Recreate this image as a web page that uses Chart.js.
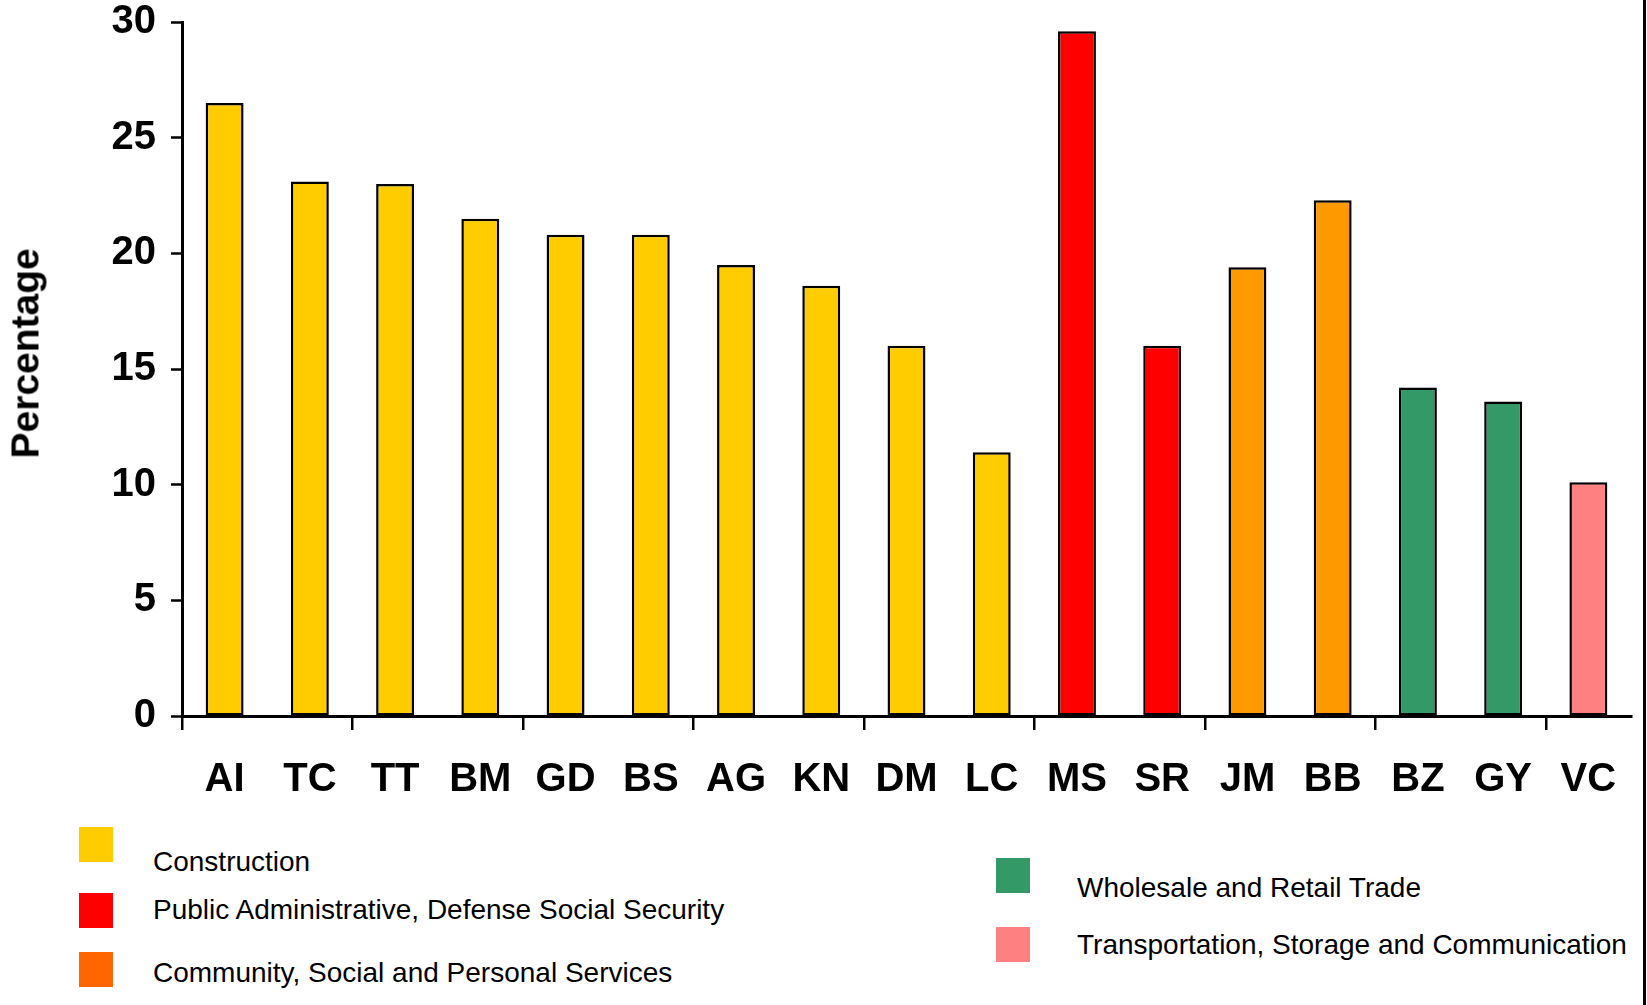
<!DOCTYPE html>
<html>
<head>
<meta charset="utf-8">
<script src="https://cdn.jsdelivr.net/npm/chart.js@4.4.1/dist/chart.umd.min.js"></script>
<style>
  html, body { margin: 0; padding: 0; background: #fff; }
  body { width: 1647px; height: 1005px; position: relative; overflow: hidden; }
  .chart-container { position: absolute; left: 0; top: 0; width: 1647px; height: 800px; }
  .edge { position: absolute; left: 1643px; top: 0; width: 3px; height: 1005px; background: #000; }
  .y-title {
    position: absolute; left: -80px; top: 334px; width: 210px; height: 39px;
    font-family: "Liberation Sans", Arial, sans-serif; font-weight: bold; font-size: 39px; line-height: 39px;
    text-align: center; color: #000; white-space: nowrap; transform: rotate(-90deg);
  }
  .legend-item .swatch { position: absolute; width: 34px; height: 35px; }
  .legend-item .label {
    position: absolute; white-space: nowrap;
    font-family: "Liberation Sans", Arial, sans-serif; font-size: 28px; line-height: 28px; color: #000;
  }
</style>
</head>
<body>
<div class="chart-container"><canvas id="sectorChart"></canvas></div>
<div class="y-title">Percentage</div>
<div class="edge"></div>
<div id="legend"></div>
<script>
const categories = ['AI', 'TC', 'TT', 'BM', 'GD', 'BS', 'AG', 'KN', 'DM', 'LC', 'MS', 'SR', 'JM', 'BB', 'BZ', 'GY', 'VC'];
const values = [26.5, 23.1, 23.0, 21.5, 20.8, 20.8, 19.5, 18.6, 16.0, 11.4, 29.6, 16.0, 19.4, 22.3, 14.2, 13.6, 10.1];
// index into sectors for each bar
const barSector = [0, 0, 0, 0, 0, 0, 0, 0, 0, 0, 1, 1, 2, 2, 3, 3, 4];

const sectors = [
  'Construction',
  'Public Administrative, Defense Social Security',
  'Community, Social and Personal Services',
  'Wholesale and Retail Trade',
  'Transportation, Storage and Communication',
];
const barColors = ['#FFCC00', '#FF0000', '#FF9900', '#339966', '#FF8080'];
const legendColors = ['#FFCC00', '#FF0000', '#FF6600', '#339966', '#FF8080'];
const yTicks = [0, 5, 10, 15, 20, 25, 30];

// legend spots, same order as sectors
const legendSpots = [
  { x: 79, y: 827, tx: 153, ty: 848 },
  { x: 79, y: 893, tx: 153, ty: 896 },
  { x: 79, y: 952, tx: 153, ty: 959 },
  { x: 996, y: 858, tx: 1077, ty: 874 },
  { x: 996, y: 927, tx: 1077, ty: 931 },
];

const legendEl = document.getElementById('legend');
sectors.forEach((name, i) => {
  const spot = legendSpots[i];
  const item = document.createElement('div');
  item.className = 'legend-item';
  const sw = document.createElement('div');
  sw.className = 'swatch';
  sw.style.left = spot.x + 'px';
  sw.style.top = spot.y + 'px';
  sw.style.background = legendColors[i];
  const lb = document.createElement('div');
  lb.className = 'label';
  lb.style.left = spot.tx + 'px';
  lb.style.top = spot.ty + 'px';
  lb.textContent = name;
  item.appendChild(sw);
  item.appendChild(lb);
  legendEl.appendChild(item);
});

const tickFont = { family: '"Liberation Sans", Arial, sans-serif', size: 40, weight: 'bold', lineHeight: 1 };

new Chart(document.getElementById('sectorChart'), {
  type: 'bar',
  data: {
    labels: categories,
    datasets: [{
      data: values,
      backgroundColor: barSector.map((s) => barColors[s]),
      borderColor: '#000',
      borderWidth: 2.5,
      borderSkipped: false,
      categoryPercentage: 1,
      barPercentage: 0.445,
    }],
  },
  options: {
    responsive: true,
    maintainAspectRatio: false,
    animation: false,
    layout: { padding: { top: 22, right: 16, bottom: 0, left: 0 } },
    plugins: {
      legend: { display: false },
      tooltip: { enabled: false },
    },
    scales: {
      x: {
        offset: true,
        afterFit(scale) { scale.height = 84; },
        grid: {
          offset: true,
          drawOnChartArea: false,
          drawTicks: true,
          tickLength: 14,
          lineWidth: 2.5,
          tickWidth: 2.5,
          tickColor: (ctx) => (ctx.index % 2 === 0 ? '#000' : 'rgba(0,0,0,0)'),
        },
        border: { display: true, color: '#000', width: 3 },
        ticks: { color: '#000', font: tickFont, padding: 30, maxRotation: 0, autoSkip: false },
      },
      y: {
        min: 0,
        max: 30,
        afterFit(scale) {
          scale.width = 182;
          // keep the top label from pushing the plot down
          scale.paddingTop = 20;
          scale.paddingBottom = 20;
        },
        afterBuildTicks(scale) { scale.ticks = yTicks.map((v) => ({ value: v })); },
        grid: {
          drawOnChartArea: false,
          drawTicks: true,
          tickLength: 11,
          tickWidth: 2.5,
          tickColor: '#000',
        },
        border: { display: true, color: '#000', width: 3 },
        ticks: { color: '#000', font: tickFont, padding: 15 },
      },
    },
  },
});
</script>
</body>
</html>
